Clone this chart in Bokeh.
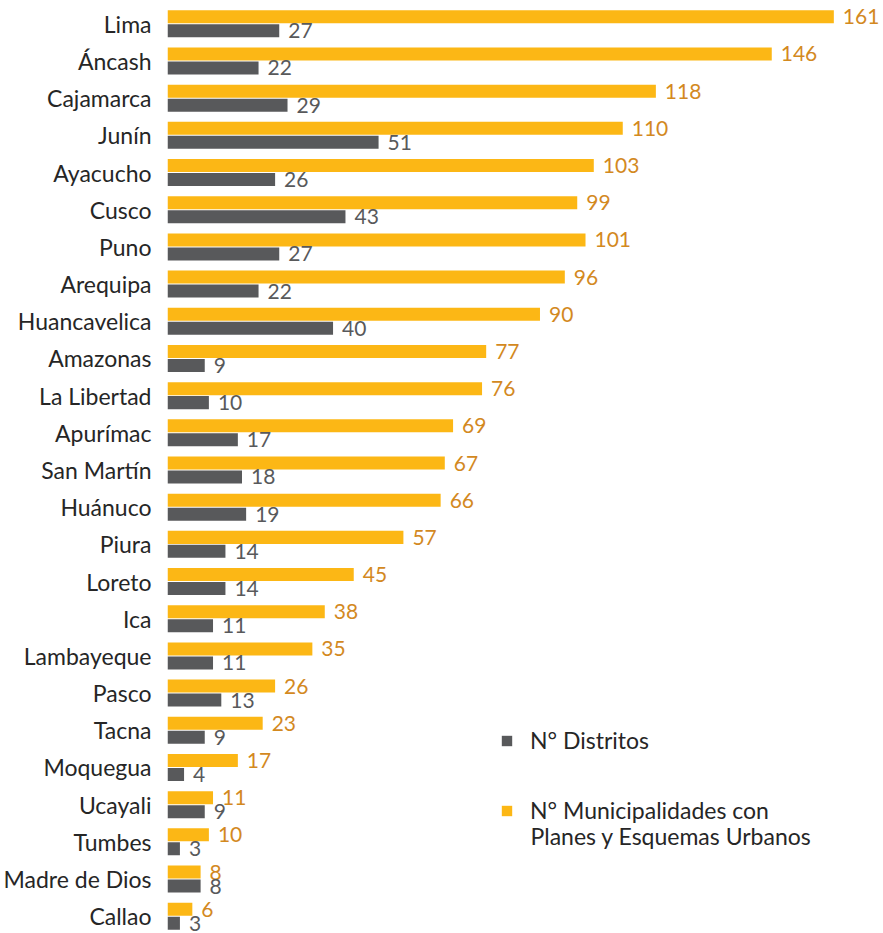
from bokeh.plotting import figure
from bokeh.models import ColumnDataSource, FactorRange, Legend, LegendItem, Label
from bokeh.transform import dodge
from bokeh.core.properties import value
from bokeh.embed import file_html
from bokeh.resources import INLINE

categories = ["Lima", "Áncash", "Cajamarca", "Junín", "Ayacucho", "Cusco", "Puno",
              "Arequipa", "Huancavelica", "Amazonas", "La Libertad", "Apurímac",
              "San Martín", "Huánuco", "Piura", "Loreto", "Ica", "Lambayeque",
              "Pasco", "Tacna", "Moquegua", "Ucayali", "Tumbes", "Madre de Dios", "Callao"]
municipalidades = [161, 146, 118, 110, 103, 99, 101, 96, 90, 77, 76, 69, 67, 66, 57,
                   45, 38, 35, 26, 23, 17, 11, 10, 8, 6]
distritos = [27, 22, 29, 51, 26, 43, 27, 22, 40, 9, 10, 17, 18, 19, 14, 14, 11, 11,
             13, 9, 4, 9, 3, 8, 3]
series_names = ["N° Distritos", "N° Municipalidades con", "Planes y Esquemas Urbanos"]

YELLOW = "#FCB715"
GRAY = "#58595B"
YTEXT = "#D3891F"
FONT = "Lato"

src = ColumnDataSource(dict(
    cat=categories,
    muni=municipalidades,
    dist=distritos,
    muni_s=[str(v) for v in municipalidades],
    dist_s=[str(v) for v in distritos],
))

yr = FactorRange(factors=categories[::-1], range_padding=-0.035, range_padding_units="absolute")

p = figure(width=883, height=933, y_range=yr, x_range=(0, 173),
           output_backend="svg", toolbar_location=None,
           min_border_left=167, min_border_right=0, min_border_top=6, min_border_bottom=0)

r_muni = p.hbar(y=dodge("cat", 0.188, range=p.y_range), right="muni", left=0, height=0.35,
                source=src, fill_color=YELLOW, line_color=None)
r_dist = p.hbar(y=dodge("cat", -0.188, range=p.y_range), right="dist", left=0, height=0.35,
                source=src, fill_color=GRAY, line_color=None)

p.text(x="muni", y=dodge("cat", 0.188, range=p.y_range), text="muni_s", source=src,
       x_offset=9, text_baseline="middle", text_align="left",
       text_font=value(FONT), text_font_size="21px", text_color=YTEXT)
p.text(x="dist", y=dodge("cat", -0.188, range=p.y_range), text="dist_s", source=src,
       x_offset=9, y_offset=0, text_baseline="middle", text_align="left",
       text_font=value(FONT), text_font_size="21px", text_color=GRAY)

p.xaxis.visible = False
p.xgrid.visible = False
p.ygrid.visible = False
p.outline_line_color = None
ax = p.yaxis[0]
ax.axis_line_color = None
ax.major_tick_line_color = None
ax.minor_tick_line_color = None
ax.major_tick_out = 0
ax.major_tick_in = 0
ax.major_label_standoff = 16
ax.major_label_text_font = FONT
ax.major_label_text_font_size = "23px"
ax.major_label_text_color = "#262626"

legend = Legend(items=[LegendItem(label=series_names[0], renderers=[r_dist]),
                       LegendItem(label=series_names[1], renderers=[r_muni])],
                location=(333, 109), orientation="vertical",
                padding=0, margin=0, spacing=42, glyph_width=13, glyph_height=13,
                label_standoff=17, label_text_font=FONT, label_text_font_size="23px",
                label_text_color="#262626", border_line_color=None,
                background_fill_alpha=0)
p.add_layout(legend, "center")

p.add_layout(Label(x=363, y=98, x_units="screen", y_units="screen",
                   text=series_names[2], text_font=FONT, text_font_size="23px",
                   text_color="#262626", text_baseline="middle"))

open("out.html", "w").write(file_html(p, INLINE))
